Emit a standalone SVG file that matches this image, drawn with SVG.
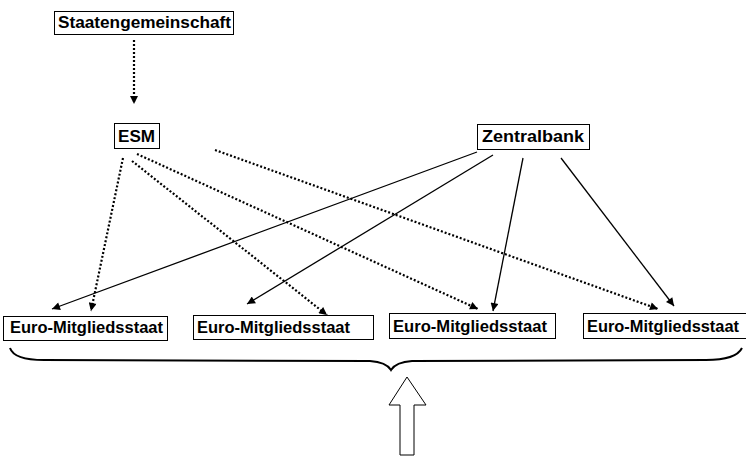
<svg xmlns="http://www.w3.org/2000/svg" width="746" height="460" viewBox="0 0 746 460">
<style>
.box{fill:#fff;stroke:#000;stroke-width:1}
.t{font-family:"Liberation Sans",Arial,sans-serif;font-weight:bold;font-size:16px;fill:#000}
.sol{stroke:#000;stroke-width:1.3;fill:none;marker-end:url(#ah)}
.dot{stroke:#000;stroke-width:2.2;fill:none;stroke-dasharray:2 2;marker-end:url(#ah)}
</style>
<defs>
<marker id="ah" viewBox="0 0 10 10" refX="10" refY="5" markerWidth="10" markerHeight="8" markerUnits="userSpaceOnUse" orient="auto">
<path d="M0,0 L10,5 L0,10 Z" fill="#000"/>
</marker>
</defs>
<g id="connectors">
<line class="dot" x1="134" y1="40" x2="134" y2="104"/>
<line class="dot" x1="123" y1="158" x2="91" y2="311"/>
<line class="dot" x1="132" y1="161" x2="327" y2="315"/>
<line class="dot" x1="137" y1="154" x2="478" y2="309"/>
<line class="dot" x1="215" y1="150" x2="658" y2="309"/>
<line class="sol" x1="477" y1="152" x2="52" y2="309"/>
<line class="sol" x1="493" y1="155" x2="247" y2="304"/>
<line class="sol" x1="523" y1="158" x2="493" y2="311"/>
<line class="sol" x1="561" y1="158" x2="674" y2="306"/>
<path d="M10,348 Q14,360 44,360 L370,361 Q386,362 391,370 Q396,362 412,361 L706,360 Q736,360 742,348" fill="none" stroke="#000" stroke-width="2"/>
<path d="M407,377 L426,405 L414,405 L414,455 L400,455 L400,405 L389,405 Z" fill="#fff" stroke="#000" stroke-width="1"/>
</g>
<g id="staatengemeinschaft">
<rect class="box" x="54.5" y="11.5" width="179" height="23"/>
<text class="t" x="58" y="28" textLength="173" lengthAdjust="spacingAndGlyphs">Staatengemeinschaft</text>
</g>
<g id="esm">
<rect class="box" x="114.5" y="123.5" width="45" height="25"/>
<text class="t" x="118" y="142" textLength="37" lengthAdjust="spacingAndGlyphs">ESM</text>
</g>
<g id="zentralbank">
<rect class="box" x="477.5" y="124.5" width="112" height="25"/>
<text class="t" x="482" y="142" textLength="102" lengthAdjust="spacingAndGlyphs">Zentralbank</text>
</g>
<g id="euro1">
<rect class="box" x="3.5" y="316.5" width="164" height="24"/>
<text class="t" x="10" y="333" textLength="153" lengthAdjust="spacingAndGlyphs">Euro-Mitgliedsstaat</text>
</g>
<g id="euro2">
<rect class="box" x="193.5" y="315.5" width="180" height="24"/>
<text class="t" x="197" y="333" textLength="153" lengthAdjust="spacingAndGlyphs">Euro-Mitgliedsstaat</text>
</g>
<g id="euro3">
<rect class="box" x="389.5" y="313.5" width="166" height="25"/>
<text class="t" x="393" y="332" textLength="154" lengthAdjust="spacingAndGlyphs">Euro-Mitgliedsstaat</text>
</g>
<g id="euro4">
<rect class="box" x="583.5" y="313.5" width="164" height="25"/>
<text class="t" x="587" y="332" textLength="152" lengthAdjust="spacingAndGlyphs">Euro-Mitgliedsstaat</text>
</g>
</svg>
